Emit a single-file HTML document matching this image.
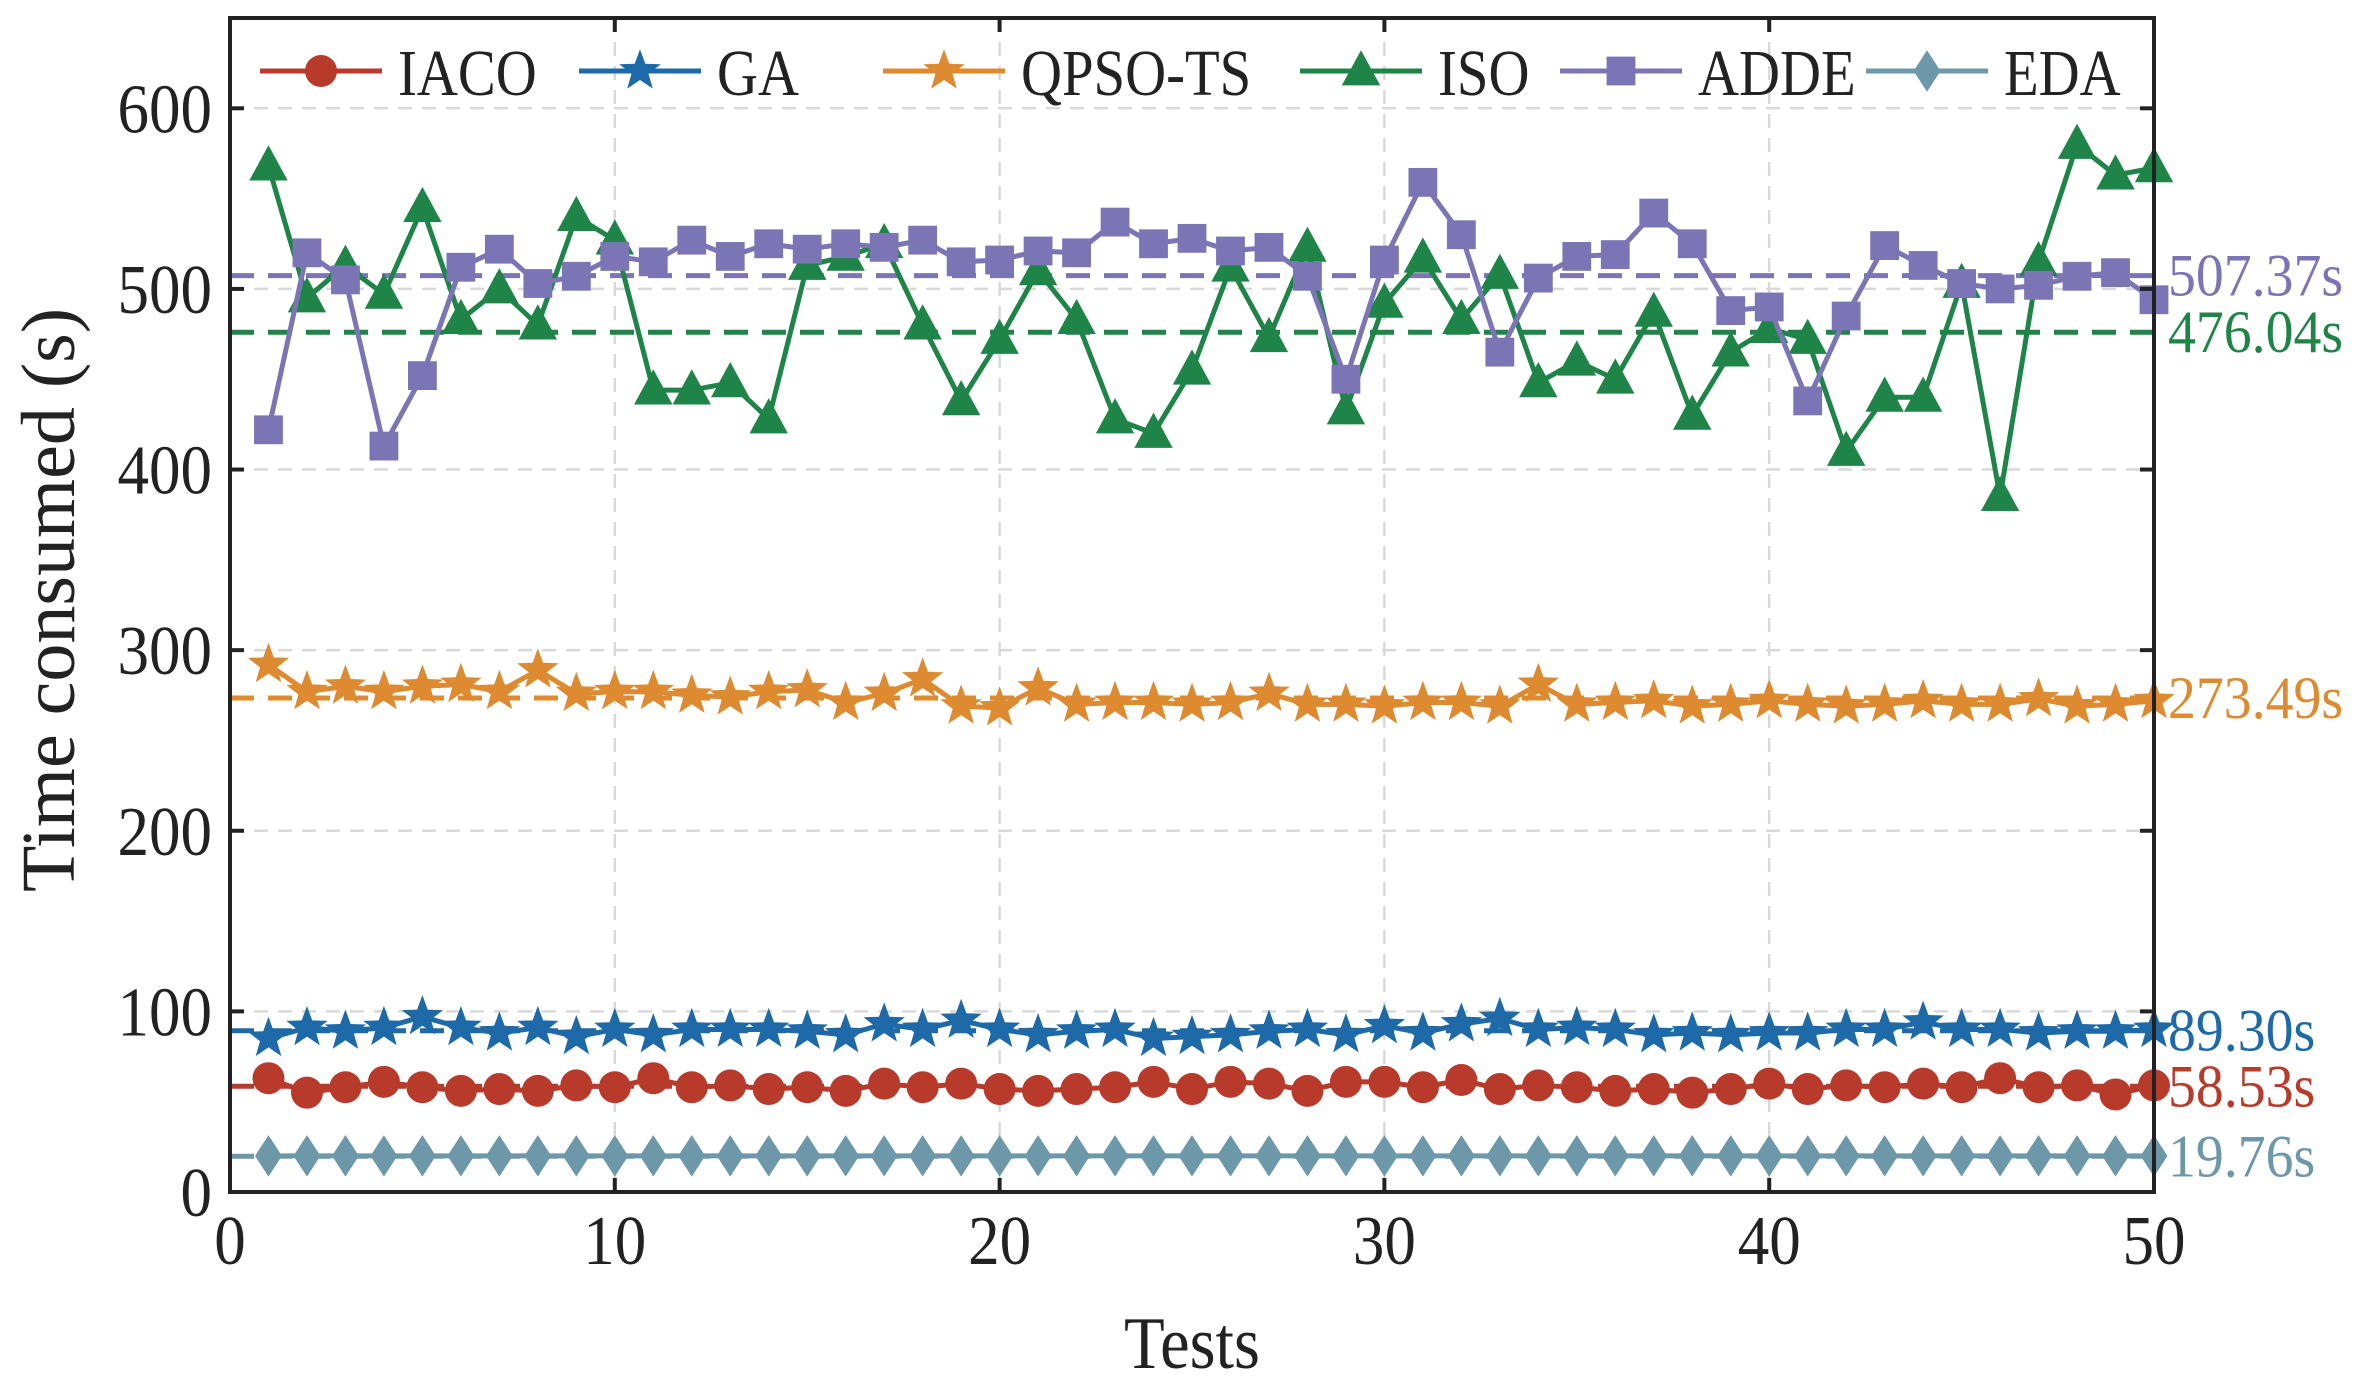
<!DOCTYPE html>
<html><head><meta charset="utf-8">
<style>
html,body{margin:0;padding:0;background:#fff;}
svg{display:block;font-family:"Liberation Serif",serif;}
</style></head>
<body>
<svg id="chart" width="2375" height="1391" viewBox="0 0 2375 1391" xmlns="http://www.w3.org/2000/svg"></svg>
<script>
const tests = Array.from({length:50},(_,i)=>i+1);
const seriesNames = ["IACO","GA","QPSO-TS","ISO","ADDE","EDA"];
const iacoValues = [63,55,58,61,58,56,57,56,59,58,63,58,59,57,58,56,60,58,60,57,56,57,58,61,57,61,60,56,61,61,58,62,57,59,58,56,57,55,57,60,57,59,58,60,58,63,58,59,54,59];
const gaValues = [85,91,89,91,97,91,88,91,86,90,87,90,90,90,89,87,93,90,95,90,87,89,90,85,86,87,89,90,87,92,88,93,96,90,91,90,87,88,87,88,88,90,90,94,90,90,88,89,89,90];
const qpsoValues = [292,277,280,277,280,281,277,289,276,277,277,275,274,277,278,271,276,284,269,268,279,270,271,271,270,271,276,270,270,269,271,271,269,281,270,271,272,269,270,272,270,269,270,272,270,270,273,269,270,272];
const isoValues = [568,495,513,497,545,483,500,480,540,527,444,444,448,428,513,518,525,480,438,472,510,483,428,420,455,512,473,523,433,492,517,483,508,448,460,450,487,430,465,478,472,410,440,440,503,385,515,580,563,567];
const addeValues = [422,520,505,413,452,512,522,503,507,518,515,527,518,525,522,525,523,527,515,516,521,520,537,525,528,521,523,507,450,516,559,530,465,506,518,519,542,525,488,490,438,485,524,513,503,500,502,507,509,494];
const edaValues = [20,20,20,20,20,20,20,20,20,20,20,20,20,20,20,20,20,20,20,20,20,20,20,20,20,20,20,20,20,20,20,20,20,20,20,20,20,20,20,20,20,20,20,20,20,20,20,20,20,20];
const meanValues = [58.53,89.30,273.49,476.04,507.37,19.76];
const meanLabels = ["58.53s","89.30s","273.49s","476.04s","507.37s","19.76s"];
const xTicks = [0,10,20,30,40,50];
const yTicks = [0,100,200,300,400,500,600];

const colors = ["#b83a2b","#1e6aa8","#de8a30","#1f8447","#7b74b5","#6c98aa"];
const markers = ["circle","star","star","triangle","square","diamond"];
const allValues = [iacoValues,gaValues,qpsoValues,isoValues,addeValues,edaValues];

const L=230,R=2154,T=18,B=1192,XMAX=50,YMAX=650;
const xs = v => L + (v/XMAX)*(R-L);
const ys = v => B - (v/YMAX)*(B-T);
const svg = document.getElementById('chart');
const NS="http://www.w3.org/2000/svg";
function mk(tag, attrs, parent){const e=document.createElementNS(NS,tag);for(const k in attrs)e.setAttribute(k,attrs[k]);(parent||svg).appendChild(e);return e;}
function sx(x,k){return `translate(${x},0) scale(${k},1) translate(${-x},0)`;}

const grid = mk('g',{});


xTicks.slice(1,-1).forEach(t=>{mk('line',{x1:xs(t),x2:xs(t),y1:T,y2:B,stroke:'#d9d9d9','stroke-width':2.5,'stroke-dasharray':'14,10'},grid);});
yTicks.slice(1).forEach(t=>{mk('line',{x1:L,x2:R,y1:ys(t),y2:ys(t),stroke:'#d9d9d9','stroke-width':2.5,'stroke-dasharray':'14,10'},grid);});

meanValues.forEach((m,i)=>{
  const ln = mk('line',{x1:L,x2:R,y1:ys(m),y2:ys(m),stroke:colors[i],'stroke-width':5,'stroke-dasharray':'24,14'});
  
  
  const tx = mk('text',{x:R+14,y:ys(m)+20,fill:colors[i],'font-size':60,transform:sx(R+14,0.93)});
  tx.textContent = meanLabels[i];
  
  
});

function marker(type,x,y,c,s,parent){
  if(type==='circle') return mk('circle',{cx:x,cy:y,r:s*0.5,fill:c},parent);
  if(type==='square') return mk('rect',{x:x-s*0.45,y:y-s*0.45,width:s*0.9,height:s*0.9,fill:c},parent);
  if(type==='triangle') return mk('polygon',{points:`${x},${y-s*0.65} ${x-s*0.6},${y+s*0.45} ${x+s*0.6},${y+s*0.45}`,fill:c},parent);
  if(type==='diamond') return mk('polygon',{points:`${x},${y-s*0.65} ${x-s*0.42},${y} ${x},${y+s*0.65} ${x+s*0.42},${y}`,fill:c},parent);
  if(type==='star'){let p=[];for(let k=0;k<10;k++){const r=k%2?s*0.28:s*0.68;const a=-Math.PI/2+k*Math.PI/5;p.push((x+r*Math.cos(a)).toFixed(1)+','+(y+r*Math.sin(a)).toFixed(1));}return mk('polygon',{points:p.join(' '),fill:c},parent);}
}

[5,0,1,2,3,4].forEach(i=>{
  const g = mk('g',{});
  
  
  const vals = allValues[i];
  mk('polyline',{points:vals.map((v,j)=>xs(tests[j])+','+ys(v)).join(' '),fill:'none',stroke:colors[i],'stroke-width':5,'stroke-linejoin':'round'},g);
  vals.forEach((v,j)=>{
    const m = marker(markers[i],xs(tests[j]),ys(v),colors[i],32,g);
    
    
  });
});

const frame = mk('rect',{x:L,y:T,width:R-L,height:B-T,fill:'none',stroke:'#222','stroke-width':4});



xTicks.forEach(t=>{
  mk('line',{x1:xs(t),x2:xs(t),y1:B,y2:B-14,stroke:'#222','stroke-width':4});
  mk('line',{x1:xs(t),x2:xs(t),y1:T,y2:T+14,stroke:'#222','stroke-width':4});
  const tx = mk('text',{x:xs(t),y:B+72,'text-anchor':'middle','font-size':70,fill:'#222',transform:sx(xs(t),0.9)});
  tx.textContent = t;
  
  
});
yTicks.forEach(t=>{
  mk('line',{x1:L,x2:L+14,y1:ys(t),y2:ys(t),stroke:'#222','stroke-width':4});
  mk('line',{x1:R,x2:R-14,y1:ys(t),y2:ys(t),stroke:'#222','stroke-width':4});
  const tx = mk('text',{x:L-18,y:ys(t)+24,'text-anchor':'end','font-size':70,fill:'#222',transform:sx(L-18,0.9)});
  tx.textContent = t;
  
  
});

const xt = mk('text',{x:(L+R)/2,y:1368,'text-anchor':'middle','font-size':74,fill:'#222',transform:sx((L+R)/2,0.9)});
xt.textContent='Tests';


const yt = mk('text',{x:0,y:0,'text-anchor':'middle','font-size':76,fill:'#222',transform:`translate(74,${(T+B)/2-5}) rotate(-90)`});
yt.textContent='Time consumed (s)';



const legX = [260,579,883,1300,1560,1866];
const legend = mk('g',{});


seriesNames.forEach((n,i)=>{
  const e = mk('g',{},legend);
  
  
  const y=71;
  mk('line',{x1:legX[i],x2:legX[i]+122,y1:y,y2:y,stroke:colors[i],'stroke-width':5},e);
  marker(markers[i],legX[i]+61,y,colors[i],32,e);
  const tx = mk('text',{x:legX[i]+138,y:y+24,'font-size':66,fill:'#222',transform:sx(legX[i]+138,0.86)},e);
  tx.textContent=n;
});
</script>
</body></html>
